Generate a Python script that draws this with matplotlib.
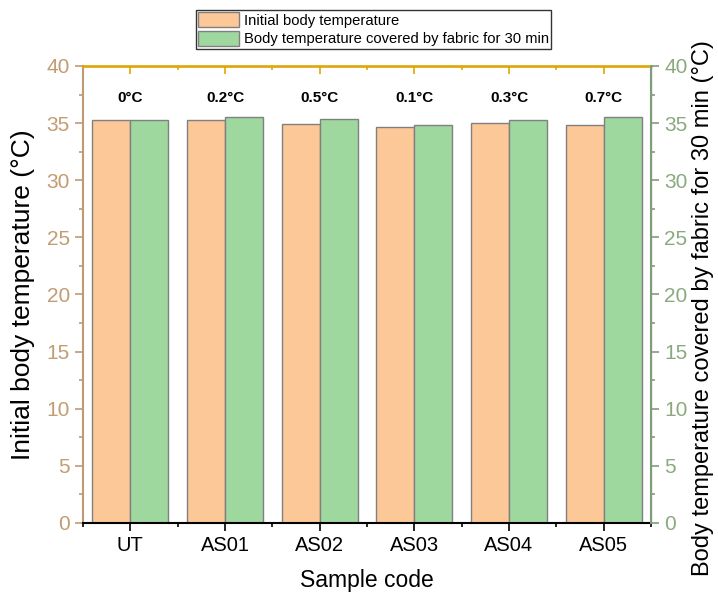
import matplotlib
matplotlib.use("Agg")
import matplotlib.pyplot as plt
import numpy as np
from matplotlib.ticker import MultipleLocator, FixedLocator

plt.rcParams["font.family"] = ["Liberation Sans", "DejaVu Sans"]

samples = ["UT", "AS01", "AS02", "AS03", "AS04", "AS05"]
initial_temp = [35.3, 35.3, 34.9, 34.7, 35.0, 34.8]
covered_temp = [35.3, 35.5, 35.4, 34.8, 35.3, 35.5]
diff_labels = ["0°C", "0.2°C", "0.5°C", "0.1°C", "0.3°C", "0.7°C"]

ORANGE = "#FDC897"
GREEN = "#9FD89F"
LEFT_COL = "#BF9A74"
RIGHT_COL = "#7E9E7A"
LEFT_TXT = "#C29C72"
RIGHT_TXT = "#8AAA7E"
GOLD = "#E2A800"

fig = plt.figure(figsize=(7.18, 5.96), dpi=100)
ax = fig.add_axes([0.1156, 0.1225, 0.7911, 0.7668])

x = np.arange(len(samples))
w = 0.4
b1 = ax.bar(x - w / 2, initial_temp, w, color=ORANGE, edgecolor="#808080", linewidth=1,
            label="Initial body temperature")
b2 = ax.bar(x + w / 2, covered_temp, w, color=GREEN, edgecolor="#808080", linewidth=1,
            label="Body temperature covered by fabric for 30 min")

for xi, txt in zip(x, diff_labels):
    ax.text(xi, 37.2, txt, ha="center", va="center", fontsize=11, fontweight="bold")

ax.set_xlim(-0.5, 5.5)
ax.set_ylim(0, 40)
ax.set_xticks(x)
ax.set_xticklabels(samples, fontsize=14.5)
ax.xaxis.set_minor_locator(FixedLocator(np.arange(-0.5, 6.0, 1.0)))
ax.tick_params(axis="x", which="major", direction="out", length=6, width=1.2, colors="black",
               top=False)
ax.tick_params(axis="x", which="minor", direction="out", length=3, width=1.2, colors="black",
               top=False)

ax.yaxis.set_major_locator(MultipleLocator(5))
ax.yaxis.set_minor_locator(MultipleLocator(2.5))
ax.tick_params(axis="y", which="major", length=6, width=1.2, color=LEFT_COL, labelcolor=LEFT_TXT,
               labelsize=15)
ax.tick_params(axis="y", which="minor", length=3, width=1.2, color=LEFT_COL)
ax.set_ylabel("Initial body temperature (°C)", fontsize=19, labelpad=8)
ax.set_xlabel("Sample code", fontsize=16.5, labelpad=10)

ax.spines["left"].set_color(LEFT_COL)
ax.spines["left"].set_linewidth(1.5)
ax.spines["bottom"].set_color("black")
ax.spines["bottom"].set_linewidth(1.5)
ax.spines["top"].set_color(GOLD)
ax.spines["top"].set_linewidth(1.8)

# top ticks pointing into the plot in gold
top = ax.secondary_xaxis("top")
top.set_xticks(x)
top.set_xticklabels([])
top.xaxis.set_minor_locator(FixedLocator(np.arange(-0.5, 6.0, 1.0)))
top.tick_params(axis="x", which="major", direction="in", length=6, width=1.2, color=GOLD)
top.tick_params(axis="x", which="minor", direction="in", length=3, width=1.2, color=GOLD)
top.spines["top"].set_color("#555555")
top.spines["top"].set_linewidth(1.0)

ax2 = ax.twinx()
ax2.set_ylim(0, 40)
ax2.yaxis.set_major_locator(MultipleLocator(5))
ax2.yaxis.set_minor_locator(MultipleLocator(2.5))
ax2.tick_params(axis="y", which="major", length=6, width=1.2, color=RIGHT_COL, labelcolor=RIGHT_TXT,
                labelsize=15)
ax2.tick_params(axis="y", which="minor", length=3, width=1.2, color=RIGHT_COL)
ax2.set_ylabel("Body temperature covered by fabric for 30 min (°C)", fontsize=17, labelpad=6)
ax2.yaxis.set_label_coords(1.072, 0.47)
for side in ["left", "top", "bottom"]:
    ax2.spines[side].set_visible(False)
ax2.spines["right"].set_color(RIGHT_COL)
ax2.spines["right"].set_linewidth(1.5)

leg = fig.legend(handles=[b1, b2], loc="upper left", bbox_to_anchor=(0.273, 0.983),
                 prop={"size": 10.6},
                 frameon=True, fancybox=False, edgecolor="black", borderpad=0.15,
                 labelspacing=0.2, handlelength=2.8, handleheight=1.2, handletextpad=0.3,
                 borderaxespad=0)
leg.get_frame().set_linewidth(1.0)

fig.savefig("out.png", dpi=100)
